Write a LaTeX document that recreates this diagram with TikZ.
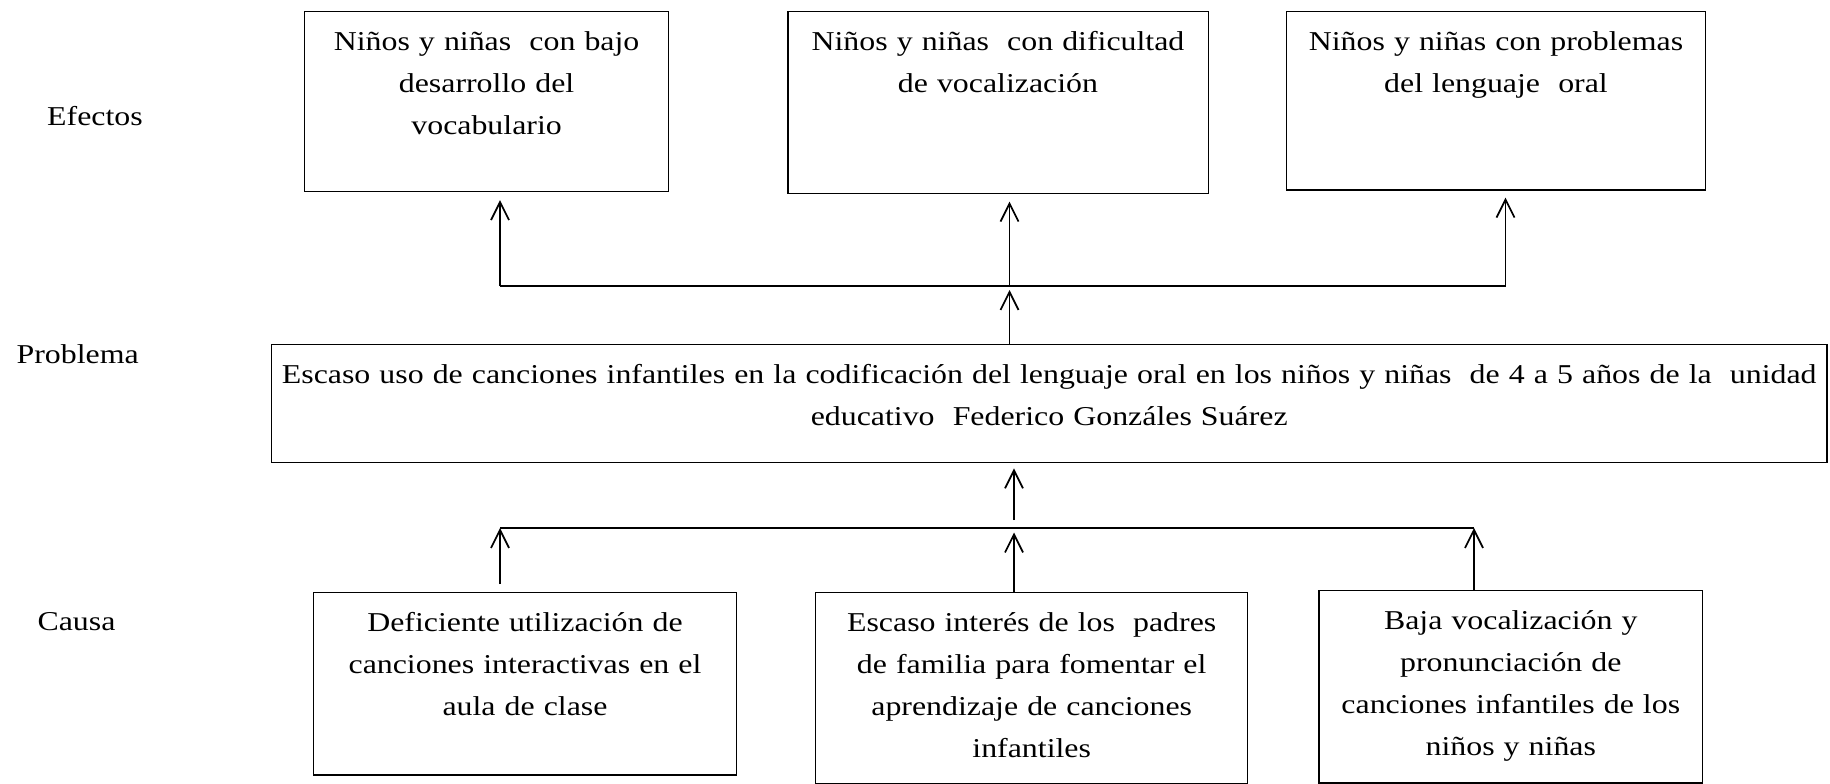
\documentclass[tikz,border=0pt]{standalone}
\usepackage{fontspec}
\setmainfont{Liberation Serif}[FakeStretch=1.17]
\usetikzlibrary{arrows.meta}
\tikzstyle{every picture}=[x=0.02cm,y=-0.02cm,>={Straight Barb[length=0.36cm,width=0.36cm]}]
\tikzset{
  box/.style={draw,line width=0.8pt,align=center,anchor=north,inner xsep=0pt,inner ysep=0pt,
    text height=0.78cm,text depth=#1,
    font=\fontsize{15.5}{23.9}\selectfont},
  tag/.style={anchor=base,font=\fontsize{15.5}{23.9}\selectfont},
  arr/.style={->,line width=1pt},
  link/.style={line width=1pt}
}

\begin{document}
\begin{tikzpicture}
            \useasboundingbox (0,0) rectangle (1830,784);

            % efectos
            \node[box=2.82cm,text width=7.28cm] (ef1) at (486.6,10.7)
                {Niños y niñas\ \ con bajo\\desarrollo del\\vocabulario};
            \node[box=2.86cm,text width=8.41cm] (ef2) at (998,10.7)
                {Niños y niñas\ \ con dificultad\\de vocalización};
            \node[box=2.79cm,text width=8.38cm] (ef3) at (1496,10.7)
                {Niños y niñas con problemas\\del lenguaje\ \ oral};

            % problema
            \node[box=1.58cm,text width=31.11cm] (prob) at (1049.2,344)
                {Escaso uso de canciones infantiles en la codificación del lenguaje oral en los niños y niñas\ \ de 4 a 5 años de la\ \ unidad\\educativo\ \ Federico Gonzáles Suárez};

            % causas
            \node[box=2.87cm,text width=8.46cm] (ca1) at (525,591.7)
                {Deficiente utilización de\\canciones interactivas en el\\aula de clase};
            \node[box=3.04cm,text width=8.64cm] (ca2) at (1031.7,591.7)
                {Escaso interés de los\ \ padres\\de familia para fomentar el\\aprendizaje de canciones\\infantiles};
            \node[box=3.07cm,text width=7.68cm] (ca3) at (1510.8,590)
                {Baja vocalización y\\pronunciación de\\canciones infantiles de los\\niños y niñas};

            \node[tag] (tef) at (95,126) {Efectos};
            \node[tag] (tpr) at (77.7,363) {Problema};
            \node[tag] (tca) at (76.5,630) {Causa};

            % upper branch
            \coordinate (up1) at (500,286);
            \coordinate (up2) at (1009.5,286);
            \coordinate (up3) at (1505.5,286);
            \draw[link] (up1) -- (up3);
            \draw[arr,shorten >=0.16cm] (up1) -- (up1 |- ef1.south);
            \draw[arr,shorten >=0.15cm] (up2) -- (up2 |- ef2.south);
            \draw[arr,shorten >=0.14cm] (up3) -- (up3 |- ef3.south);
            \draw[arr,shorten >=0.08cm] (up2 |- prob.north) -- (up2);

            % lower branch
            \coordinate (dn1) at (500,528);
            \coordinate (dn2) at (1014,528);
            \coordinate (dn3) at (1474,528);
            \draw[link] (dn1) -- (dn3);
            \draw[arr,shorten <=0.15cm] (dn1 |- ca1.north) -- (dn1);
            \draw[arr,shorten >=0.09cm] (dn2 |- ca2.north) -- (dn2);
            \draw[arr] (dn3 |- ca3.north) -- (dn3);
            \draw[arr,shorten <=0.16cm,shorten >=0.1cm] (dn2) -- (dn2 |- prob.south);
        \end{tikzpicture}
\end{document}
